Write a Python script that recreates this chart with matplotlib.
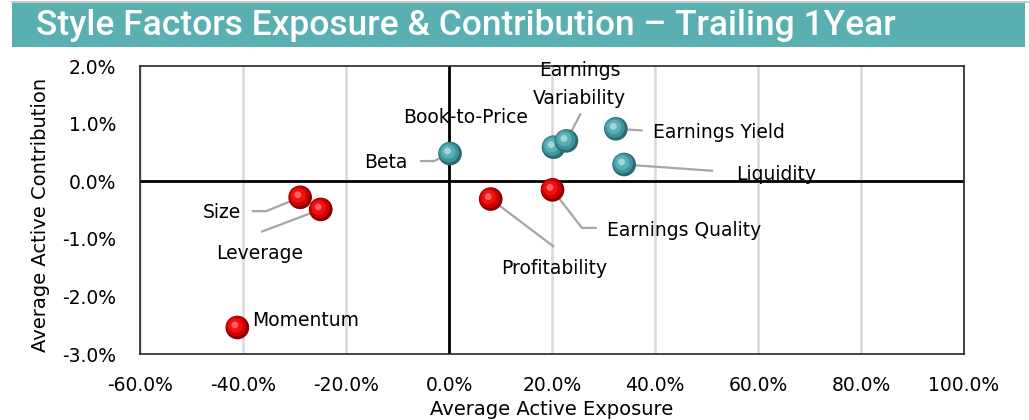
import matplotlib
matplotlib.use("Agg")
import matplotlib.pyplot as plt
import matplotlib.transforms as mtransforms
from matplotlib.patches import Rectangle
from matplotlib.lines import Line2D
from matplotlib.ticker import FuncFormatter

# ---- data ----
factors = ["Beta", "Book-to-Price", "Earnings Variability", "Earnings Yield", "Liquidity",
           "Size", "Leverage", "Momentum", "Profitability", "Earnings Quality"]
exposure = [0.002, 0.203, 0.228, 0.324, 0.340, -0.289, -0.249, -0.411, 0.081, 0.201]
contribution = [0.0048, 0.0059, 0.0070, 0.0091, 0.0029, -0.0028, -0.0049, -0.0254, -0.0031, -0.0015]
positive = [True, True, True, True, True, False, False, False, False, False]

x_ticks = [-0.6, -0.4, -0.2, 0.0, 0.2, 0.4, 0.6, 0.8, 1.0]
y_ticks = [-0.03, -0.02, -0.01, 0.0, 0.01, 0.02]

# label text, text position (data), alignment, leader path (data) or None
label_specs = {
    "Beta": ("Beta", (-0.080, 0.0033), "right", [(-0.029, 0.0035), (-0.056, 0.0035)]),
    "Book-to-Price": ("Book-to-Price", (0.033, 0.0111), "center", None),
    "Earnings Variability": ("Earnings\nVariability", (0.254, 0.0168), "center", [(0.256, 0.0118)]),
    "Earnings Yield": ("Earnings Yield", (0.396, 0.0084), "left", [(0.376, 0.0088)]),
    "Liquidity": ("Liquidity", (0.557, 0.00125), "left", [(0.513, 0.0018)]),
    "Size": ("Size", (-0.478, -0.0055), "left", [(-0.355, -0.0052), (-0.383, -0.0052)]),
    "Leverage": ("Leverage", (-0.367, -0.0126), "center", [(-0.365, -0.0088)]),
    "Momentum": ("Momentum", (-0.383, -0.0241), "left", None),
    "Profitability": ("Profitability", (0.204, -0.0152), "center", [(0.204, -0.0114)]),
    "Earnings Quality": ("Earnings Quality", (0.307, -0.0086), "left", [(0.258, -0.0081), (0.287, -0.0081)]),
}

plt.rcParams['font.family'] = ["DejaVu Sans"]
FS = 13.5

W, H = 1029, 420
fig = plt.figure(figsize=(W / 100, H / 100), dpi=100)

# title bar
fig.add_artist(Line2D([12 / W, 1], [1 - 1.5 / H, 1 - 1.5 / H], color="#bfbfbf", lw=1.2,
                      transform=fig.transFigure))
fig.add_artist(Rectangle((12 / W, 1 - 47 / H), (1025 - 12) / W, 44 / H, transform=fig.transFigure,
                         facecolor="#5aafb1", edgecolor="none"))
fig.text(36 / W, 1 - 26 / H, "Style Factors Exposure & Contribution \u2013 Trailing 1Year",
         color="white", fontsize=25.5, family=["Roboto", "DejaVu Sans"], fontweight="medium",
         va="center", ha="left")

ax = fig.add_axes([140 / W, (H - 354) / H, 824 / W, 288 / H])
ax.set_xlim(-0.6, 1.0)
ax.set_ylim(-0.03, 0.02)
ax.set_xticks(x_ticks)
ax.set_yticks(y_ticks)
ax.xaxis.set_major_formatter(FuncFormatter(lambda v, p: f"{v*100:.1f}%"))
ax.yaxis.set_major_formatter(FuncFormatter(lambda v, p: f"{v*100:.1f}%"))
ax.tick_params(length=0, labelsize=FS, colors="black")
ax.tick_params(axis="x", pad=16)
ax.tick_params(axis="y", pad=17)
for s in ax.spines.values():
    s.set_color("#262626")
    s.set_linewidth(1.2)
ax.grid(axis="x", color="#d9d9d9", lw=1.8, zorder=0)
ax.set_axisbelow(True)
ax.axhline(0, color="black", lw=2, zorder=1)
ax.axvline(0, color="black", lw=2, zorder=1)

ax.set_xlabel("Average Active Exposure", fontsize=14, va="center")
ax.set_ylabel("Average Active Contribution", fontsize=14, va="center")
ax.xaxis.set_label_coords(0.5, -0.191)
ax.yaxis.set_label_coords(-0.121, 0.483)

# leader lines and labels
for name, xv, yv in zip(factors, exposure, contribution):
    txt, pos, ha, path = label_specs[name]
    if path is not None:
        xs = [xv] + [p[0] for p in path]
        ys = [yv] + [p[1] for p in path]
        ax.plot(xs, ys, color="#a6a6a6", lw=1.6, zorder=2, solid_capstyle="butt")
    ax.text(pos[0], pos[1], txt, fontsize=FS, ha=ha, va="center", zorder=5,
            linespacing=1.55)

# spherical markers
def offset(dx, dy):
    return ax.transData + mtransforms.ScaledTranslation(dx / 72, dy / 72, fig.dpi_scale_trans)

for xv, yv, pos_ in zip(exposure, contribution, positive):
    if pos_:
        dark, mid, light, hi = "#2a6b72", "#3f939b", "#5aaeb5", "#9fd6da"
    else:
        dark, mid, light, hi = "#8a0000", "#d00000", "#f01010", "#ff6060"
    ax.scatter([xv], [yv], s=290, color=dark, edgecolors="none", zorder=3)
    ax.scatter([xv], [yv], s=210, color=mid, edgecolors="none", zorder=3,
               transform=offset(-0.8, 0.8))
    ax.scatter([xv], [yv], s=110, color=light, edgecolors="none", zorder=3,
               transform=offset(-1.4, 1.4))
    ax.scatter([xv], [yv], s=25, color=hi, edgecolors="none", zorder=3,
               transform=offset(-1.8, 1.8))

fig.savefig("out.png", dpi=100)
